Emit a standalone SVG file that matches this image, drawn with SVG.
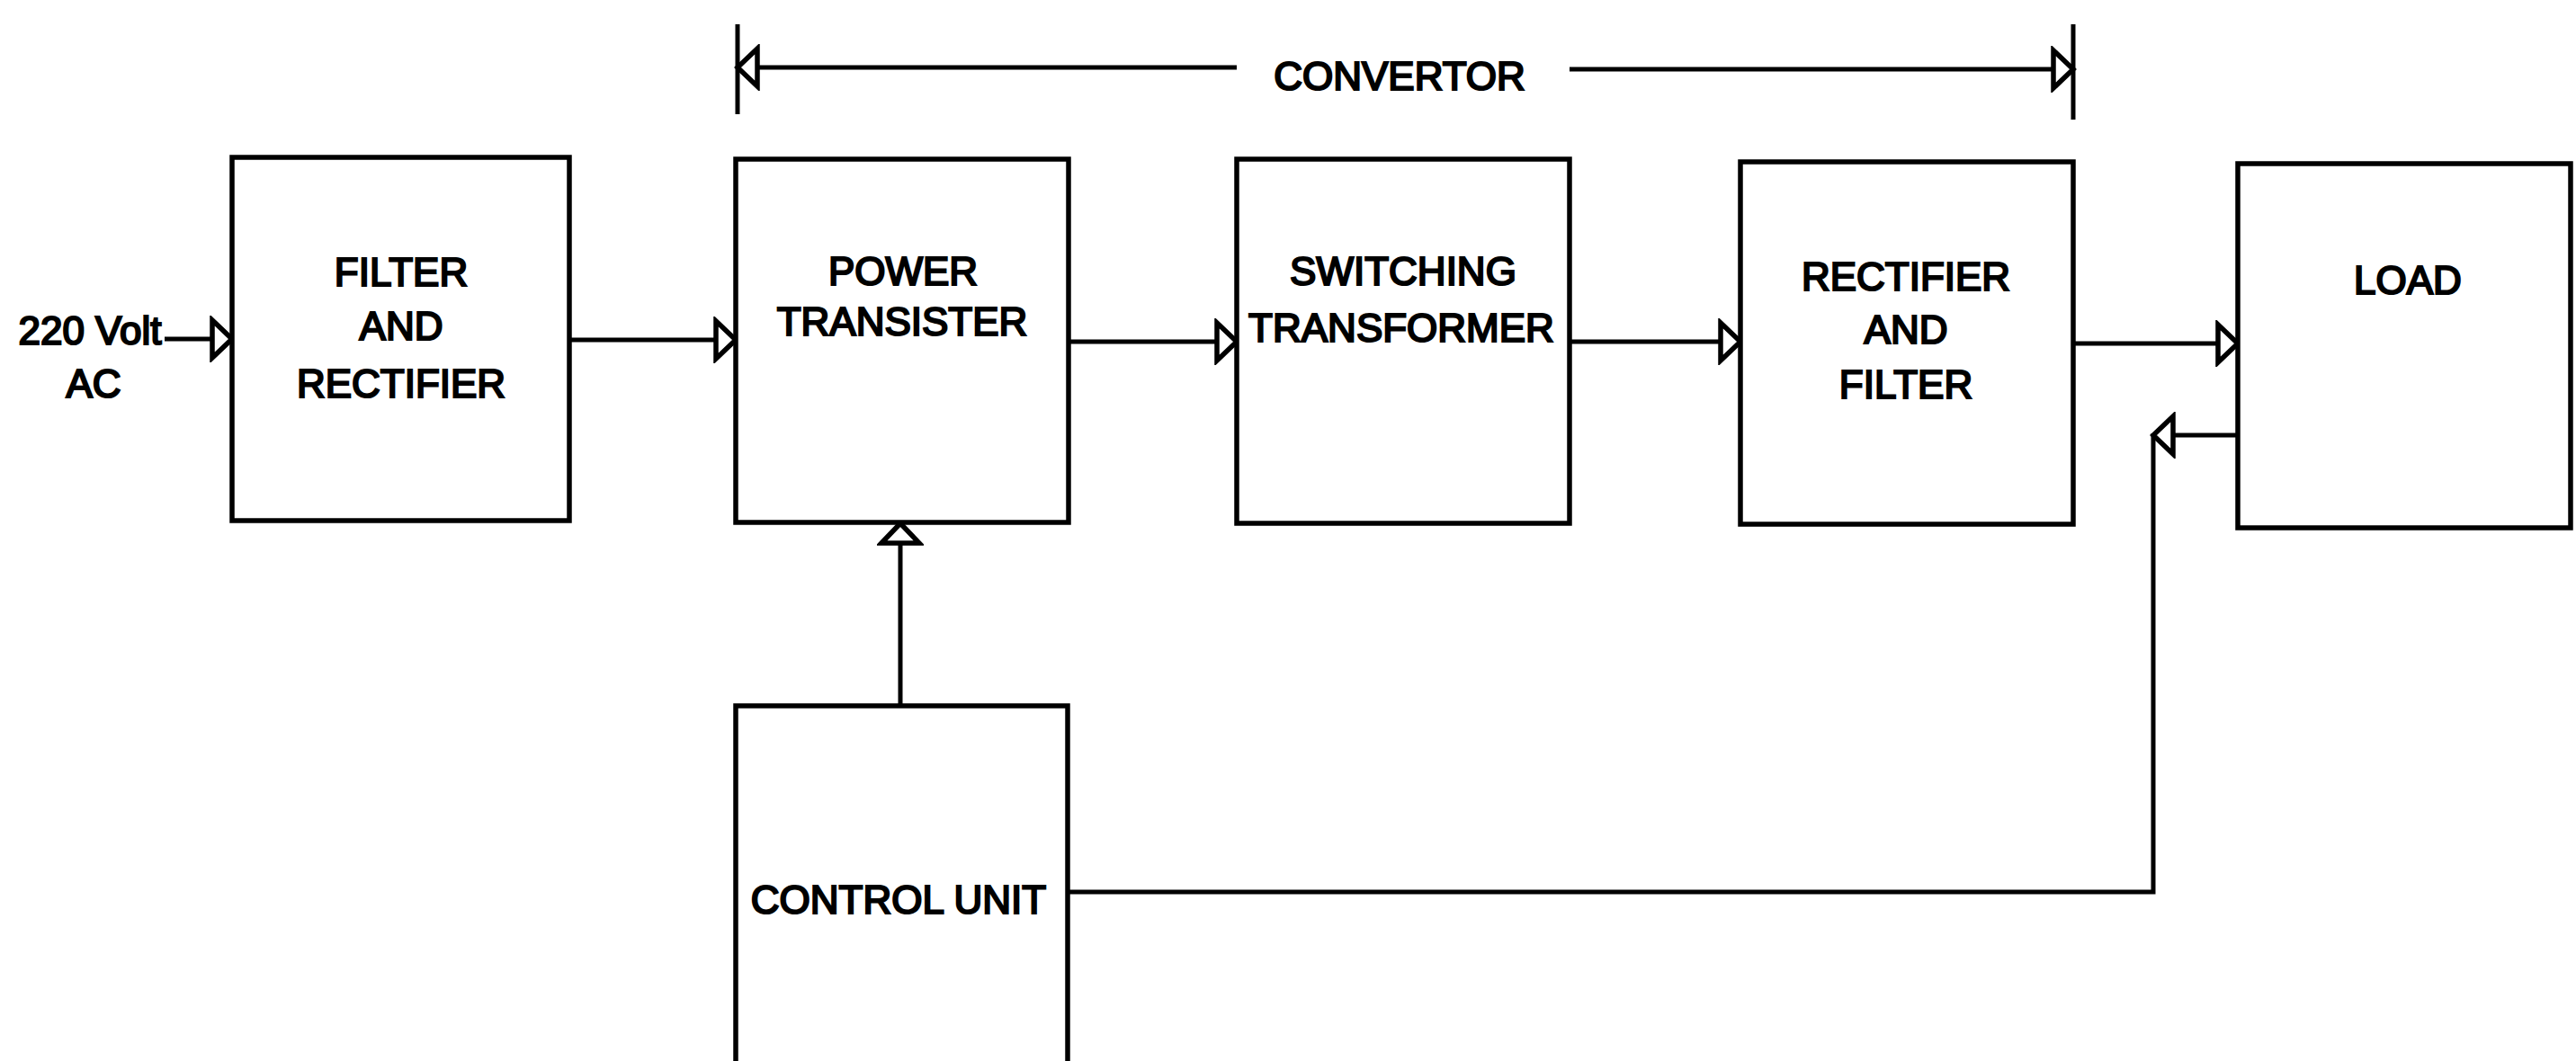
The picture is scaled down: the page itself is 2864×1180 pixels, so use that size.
<svg xmlns="http://www.w3.org/2000/svg" width="2864" height="1180" viewBox="0 0 2864 1180">
<style>
.box{fill:#fff;stroke:#000;stroke-width:5.5}
.t{font-family:"Liberation Sans",Arial,sans-serif;font-size:44px;fill:#000;stroke:#000;stroke-width:2.2;text-anchor:middle}
.c{fill:none;stroke:#000;stroke-width:5}
</style>
<defs>
<marker id="ah" markerUnits="userSpaceOnUse" viewBox="-4 -26 32 52" markerWidth="32" markerHeight="52" refX="22" refY="0" orient="auto">
<path d="M0,-21 L22,0 L0,21 Z" fill="#fff" stroke="#000" stroke-width="5.5" stroke-linejoin="miter"/>
</marker>
</defs>
<rect width="2864" height="1180" fill="#fff"/>
<g id="connectors">
<line class="c" x1="183" y1="377" x2="258" y2="377" marker-end="url(#ah)"/>
<line class="c" x1="634" y1="378" x2="818" y2="378" marker-end="url(#ah)"/>
<line class="c" x1="1188" y1="380" x2="1375" y2="380" marker-end="url(#ah)"/>
<line class="c" x1="1745" y1="380" x2="1935" y2="380" marker-end="url(#ah)"/>
<line class="c" x1="2305" y1="382" x2="2488" y2="382" marker-end="url(#ah)"/>
<line class="c" x1="1001" y1="785" x2="1001" y2="582" marker-end="url(#ah)"/>
<line class="c" x1="2488" y1="484" x2="2394" y2="484" marker-end="url(#ah)"/>
<polyline class="c" points="2394,482 2394,992 1187,992"/>
<line class="c" x1="820" y1="27" x2="820" y2="127"/>
<line class="c" x1="2305" y1="27" x2="2305" y2="133"/>
<line class="c" x1="1375" y1="75" x2="820" y2="75" marker-end="url(#ah)"/>
<line class="c" x1="1745" y1="77" x2="2305" y2="77" marker-end="url(#ah)"/>
</g>
<g id="convertor-label"><text class="t" x="1556" y="100">CONVERTOR</text></g>
<g id="input"><text class="t" x="100" y="383">220 Volt</text><text class="t" x="104" y="442">AC</text></g>
<g id="filter-rectifier">
<rect class="box" x="258" y="175" width="375" height="404"/>
<text class="t" x="446" y="318">FILTER</text>
<text class="t" x="446" y="378">AND</text>
<text class="t" x="446" y="442">RECTIFIER</text>
</g>
<g id="power-transister">
<rect class="box" x="818" y="177" width="370" height="404"/>
<text class="t" x="1004" y="317">POWER</text>
<text class="t" x="1003" y="373">TRANSISTER</text>
</g>
<g id="switching-transformer">
<rect class="box" x="1375" y="177" width="370" height="405"/>
<text class="t" x="1560" y="317">SWITCHING</text>
<text class="t" x="1558" y="380">TRANSFORMER</text>
</g>
<g id="rectifier-filter">
<rect class="box" x="1935" y="180" width="370" height="403"/>
<text class="t" x="2119" y="323">RECTIFIER</text>
<text class="t" x="2119" y="382">AND</text>
<text class="t" x="2119" y="443">FILTER</text>
</g>
<g id="load">
<rect class="box" x="2488" y="182" width="370" height="405"/>
<text class="t" x="2677" y="327">LOAD</text>
</g>
<g id="control-unit">
<rect class="box" x="818" y="785" width="369" height="420"/>
<text class="t" x="999" y="1016">CONTROL UNIT</text>
</g>
</svg>
